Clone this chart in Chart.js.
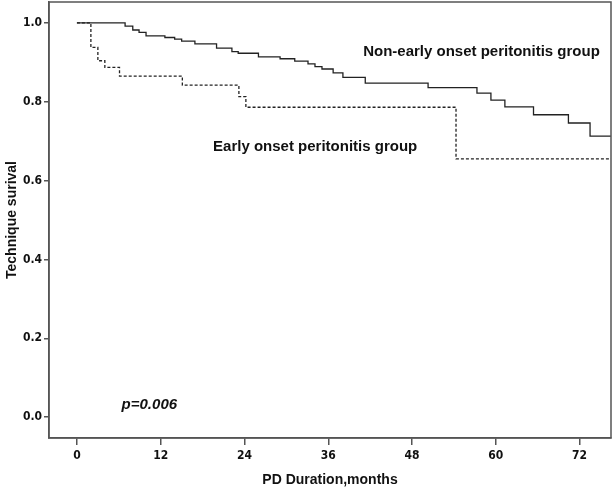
<!DOCTYPE html>
<html>
<head>
<meta charset="utf-8">
<script src="https://cdn.jsdelivr.net/npm/chart.js@4"></script>
<style>
  html, body { margin: 0; padding: 0; background: #fff; }
  #wrap { width: 614px; height: 493px; }
</style>
</head>
<body>
<div id="wrap"><canvas id="kmChart" width="614" height="493"></canvas></div>
<script>
// Kaplan-Meier steps (months, survival)
const monthsNonEarly = [0, 6.9, 8.0, 8.9, 9.9, 12.6, 14.0, 15.0, 16.9, 20.0, 22.2, 23.1, 26.0, 29.1, 31.2, 33.1, 34.1, 35.1, 36.7, 38.1, 41.3, 50.3, 57.3, 59.3, 61.3, 65.4, 70.4, 73.5, 76.5];
const survNonEarly = [1.0, 0.992, 0.982, 0.976, 0.967, 0.963, 0.959, 0.954, 0.947, 0.936, 0.927, 0.923, 0.914, 0.909, 0.903, 0.896, 0.889, 0.883, 0.873, 0.862, 0.847, 0.836, 0.822, 0.804, 0.787, 0.767, 0.746, 0.713, 0.713];

const monthsEarly = [0, 2.0, 3.0, 4.0, 6.1, 15.1, 23.2, 24.2, 54.3, 76.5];
const survEarly = [1.0, 0.938, 0.904, 0.887, 0.865, 0.842, 0.813, 0.786, 0.655, 0.655];

const xTicks = [0, 12, 24, 36, 48, 60, 72];
const yTicks = [0.0, 0.2, 0.4, 0.6, 0.8, 1.0];

const labelNonEarly = "Non-early onset peritonitis group";
const labelEarly = "Early onset peritonitis group";
const pValueText = "p=0.006";

function toPoints(xs, ys) {
  return xs.map((x, i) => ({ x: x, y: ys[i] }));
}

const axisColor = "#555";
const tickFont = { family: "'DejaVu Sans Condensed', 'Liberation Sans', Arial, sans-serif", size: 12, weight: "bold" };

// frame around the plot area plus the text annotations
const framePlugin = {
  id: "frame",
  afterDraw(chart) {
    const { ctx, chartArea: a, scales } = chart;
    ctx.save();
    ctx.strokeStyle = axisColor;
    ctx.lineWidth = 1.5;
    ctx.strokeRect(a.left, a.top, a.right - a.left, a.bottom - a.top);

    ctx.fillStyle = "#111";
    ctx.textBaseline = "middle";
    ctx.textAlign = "left";
    ctx.font = "bold 15px 'Liberation Sans', Arial, sans-serif";
    ctx.fillText(labelNonEarly, scales.x.getPixelForValue(41), scales.y.getPixelForValue(0.926));
    ctx.fillText(labelEarly, scales.x.getPixelForValue(19.5), scales.y.getPixelForValue(0.686));
    ctx.font = "italic bold 15px 'Liberation Sans', Arial, sans-serif";
    ctx.fillText(pValueText, scales.x.getPixelForValue(6.4), scales.y.getPixelForValue(0.03));
    ctx.restore();
  }
};

const ctx = document.getElementById("kmChart").getContext("2d");
new Chart(ctx, {
  type: "line",
  data: {
    datasets: [
      {
        label: labelNonEarly,
        data: toPoints(monthsNonEarly, survNonEarly),
        stepped: true,
        borderColor: "#222",
        borderWidth: 1.3,
        pointRadius: 0,
        fill: false
      },
      {
        label: labelEarly,
        data: toPoints(monthsEarly, survEarly),
        stepped: true,
        borderColor: "#222",
        borderWidth: 1.3,
        borderDash: [3, 2],
        pointRadius: 0,
        fill: false
      }
    ]
  },
  options: {
    responsive: false,
    animation: false,
    layout: { padding: { top: 2, right: 3, left: 0, bottom: 0 } },
    plugins: {
      legend: { display: false },
      tooltip: { enabled: false }
    },
    scales: {
      x: {
        type: "linear",
        min: -4,
        max: 76.5,
        afterBuildTicks: (scale) => { scale.ticks = xTicks.map(v => ({ value: v })); },
        afterFit: (scale) => {
          scale.height = 55;
          scale.paddingLeft = 0;
          scale.paddingRight = 0;
        },
        ticks: {
          color: "#111",
          font: tickFont,
          padding: 4,
          maxRotation: 0,
          callback: (v) => String(v)
        },
        grid: {
          drawOnChartArea: false,
          tickLength: 7,
          color: axisColor,
          lineWidth: 1.5
        },
        border: { color: axisColor, width: 1.5 },
        title: {
          display: true,
          text: "PD Duration,months",
          color: "#111",
          font: { family: "'Liberation Sans', Arial, sans-serif", size: 14, weight: "bold" }
        }
      },
      y: {
        type: "linear",
        min: -0.053,
        max: 1.053,
        afterBuildTicks: (scale) => { scale.ticks = yTicks.map(v => ({ value: v })); },
        afterFit: (scale) => {
          scale.width = 49;
          scale.paddingTop = 0;
          scale.paddingBottom = 0;
        },
        ticks: {
          color: "#111",
          font: tickFont,
          padding: 2,
          callback: (v) => Number(v).toFixed(1)
        },
        grid: {
          drawOnChartArea: false,
          tickLength: 5,
          color: axisColor,
          lineWidth: 1.5
        },
        border: { color: axisColor, width: 1.5 },
        title: {
          display: true,
          text: "Technique surival",
          color: "#111",
          font: { family: "'Liberation Sans', Arial, sans-serif", size: 14, weight: "bold" }
        }
      }
    }
  },
  plugins: [framePlugin]
});
</script>
</body>
</html>
